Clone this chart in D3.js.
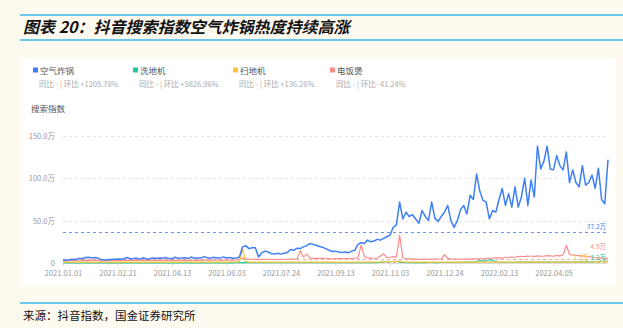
<!DOCTYPE html>
<html>
<head>
<meta charset="utf-8">
<script src="https://cdn.jsdelivr.net/npm/d3@7"></script>
<style>
  body { margin: 0; background: #fffaf0; }
  svg { display: block; }
  text { font-family: "Noto Sans CJK SC", "Noto Sans", sans-serif; }
</style>
</head>
<body>
<svg id="chart" width="623" height="328"></svg>
<script>
// values in 万, one point every 3 days from 2021-01-01
const startDate = '2021-01-01';
const stepDays = 3;

const airFryer = [
  3.5, 3.2, 3.8, 4.5, 4.2, 5.5, 5.0, 6.5, 6.8, 6.0, 6.5, 5.5, 4.0, 3.6, 4.0, 4.2,
  4.5, 4.8, 4.5, 5.0, 6.5, 4.8, 5.2, 5.5, 4.6, 6.2, 4.8, 5.0, 6.0, 5.2, 5.8,
  5.5, 6.5, 5.2, 5.0, 6.8, 5.5, 5.8, 6.2, 5.4, 7.0, 5.6, 6.0, 5.8, 7.5, 6.2,
  5.5, 6.8, 6.0, 5.8, 7.2, 6.0, 6.5, 5.6, 6.0, 6.8,
  19, 20.5, 17, 18, 18, 7, 12, 14, 13, 11, 10.5, 11.5, 10.5, 11.5, 12.5,
  16, 15, 17.5, 17, 19, 20.5, 23, 22, 21, 19.5, 18.5, 17, 15, 13.5,
  14, 13, 12.5, 13, 12, 14, 15, 22, 24, 23, 27, 25, 26, 28, 27, 29, 31, 33, 42, 45,
  72, 52, 60, 55, 57, 52, 47, 62, 55, 50, 72, 53, 49, 55, 60, 68, 50, 42, 50, 63,
  68, 58, 80, 75, 105, 85, 74, 72, 52, 62, 60, 75, 88, 68, 82, 66, 90, 66, 78, 100,
  68, 98, 78, 138, 111, 120, 138, 111, 110, 127, 115, 110, 131, 95, 110, 95, 90, 115,
  92, 95, 104, 88, 112, 75, 70, 122
];

const floorWasher = [
  0.2, 0.2, 0.2, 0.2, 0.2, 0.2, 0.2, 0.2, 0.2, 0.2, 0.2, 0.2, 0.2, 0.2, 0.2, 0.2,
  0.2, 0.2, 0.2, 0.2, 0.2, 0.2, 0.2, 0.2, 0.2, 0.2, 0.2, 0.2, 0.2, 0.2, 0.2,
  0.2, 0.2, 0.2, 0.2, 0.2, 0.2, 0.2, 0.2, 0.2, 0.2, 0.2, 0.2, 0.2, 0.2, 0.2,
  0.2, 0.2, 0.2, 0.2, 0.2, 0.2, 0.2, 0.2, 0.3, 0.3,
  0.8, 0.5, 0.3, 0.3, 0.3, 0.3, 0.3, 0.3, 0.3, 0.3, 0.3, 0.3, 0.3, 0.3, 0.3,
  0.3, 0.3, 0.3, 0.3, 0.3, 0.3, 0.3, 0.3, 0.3, 0.3, 0.3, 0.3, 0.3, 0.3,
  0.3, 0.3, 0.3, 0.3, 0.3, 0.3, 0.3, 0.4, 0.4, 0.4, 0.5, 0.5, 0.5, 0.6, 0.8, 1.5, 1.6, 1.5, 1.8, 2.0,
  1.2, 0.6, 0.5, 0.5, 0.5, 0.5, 0.5, 0.5, 0.5, 0.6, 0.6, 0.5, 0.5, 0.6, 0.6, 0.6, 0.6, 0.6, 0.7, 0.7,
  0.8, 1.0, 1.2, 1.5, 2.0, 3.0, 2.2, 2.8, 3.8, 3.2, 1.5, 1.0, 0.8, 0.8, 0.9, 0.9, 0.9, 1.0, 1.0, 1.0,
  1.0, 1.0, 1.1, 1.2, 1.0, 1.1, 1.2, 1.1, 1.1, 1.2, 1.2, 1.1, 1.3, 1.2, 1.2, 1.3, 1.2, 1.3,
  1.3, 1.4, 1.4, 1.5, 1.6, 1.8, 2.0, 2.2
];

const robotVacuum = [
  1.0, 1.0, 1.0, 1.0, 1.0, 1.0, 1.0, 1.0, 1.0, 1.0, 1.0, 1.0, 1.0, 1.0, 1.0, 1.0,
  1.0, 1.0, 1.0, 1.0, 1.0, 1.0, 1.0, 1.0, 1.0, 1.0, 1.0, 1.0, 1.0, 1.0, 1.0,
  1.0, 1.0, 1.0, 1.0, 1.0, 1.0, 1.0, 1.0, 1.0, 1.0, 1.0, 1.0, 1.0, 1.0, 1.0,
  1.0, 1.0, 1.0, 1.0, 1.0, 1.1, 1.1, 1.2, 1.3, 1.5,
  16.5, 2.0, 1.2, 1.0, 1.0, 1.0, 1.0, 1.0, 1.0, 1.0, 1.0, 1.0, 1.0, 1.0, 1.0,
  1.0, 1.0, 1.0, 1.0, 1.0, 1.0, 1.0, 1.0, 1.0, 1.0, 1.0, 1.0, 1.0, 1.0,
  1.0, 1.0, 1.0, 1.0, 1.0, 1.0, 1.0, 1.0, 1.0, 1.0, 1.0, 1.1, 1.1, 1.2, 1.2, 1.4, 1.5, 1.6, 1.8, 2.0,
  2.5, 1.2, 1.0, 1.0, 1.0, 1.0, 1.0, 1.0, 1.0, 1.0, 1.0, 1.0, 1.0, 1.0, 1.0, 1.0, 1.0, 1.0, 1.0, 1.0,
  1.0, 1.0, 1.0, 1.0, 1.0, 1.0, 1.0, 1.0, 1.0, 1.0, 1.0, 1.0, 1.0, 1.0, 1.0, 1.0, 1.0, 1.0, 1.0, 1.0,
  1.0, 1.0, 1.0, 1.0, 1.0, 1.0, 1.0, 1.0, 1.0, 1.0, 1.0, 1.0, 1.0, 1.0, 1.0, 1.0, 1.0, 1.1,
  1.1, 1.2, 1.2, 1.3, 1.4, 1.5, 1.6, 1.7
];

const riceCooker = [
  2.5, 2.6, 2.8, 3.0, 2.8, 3.2, 3.0, 3.4, 3.2, 3.0, 3.3, 3.0, 2.6, 2.5, 2.7, 2.8,
  2.8, 3.0, 2.9, 3.0, 3.4, 3.0, 3.1, 3.2, 3.0, 3.3, 3.0, 3.0, 3.2, 3.0, 3.2,
  3.1, 3.4, 3.1, 3.0, 3.5, 3.2, 3.2, 3.4, 3.1, 3.6, 3.2, 3.3, 3.2, 3.6, 3.4,
  3.2, 3.5, 3.3, 3.2, 3.6, 3.4, 3.5, 3.3, 3.6, 4.0,
  6.0, 5.0, 4.2, 4.4, 4.5, 4.0, 4.2, 4.4, 4.3, 4.2, 4.1, 4.3, 4.2, 4.4, 4.5,
  4.6, 4.5, 4.8, 14.5, 7.0, 10.5, 6.0, 5.5, 5.6, 5.4, 5.5, 5.3, 5.2, 5.0,
  5.0, 5.2, 5.1, 5.3, 5.2, 5.4, 5.6, 6.0, 21, 8.0, 6.0, 5.8, 5.6, 5.8, 8.0, 11, 6.5, 6.8, 7.5, 7.0,
  33, 6.0, 5.0, 4.8, 4.6, 4.5, 4.4, 4.6, 4.5, 4.4, 4.6, 4.5, 4.4, 5.0, 10, 5.5, 4.8, 4.6, 4.5, 4.4,
  4.5, 4.6, 4.6, 4.8, 5.0, 5.2, 5.0, 5.4, 5.6, 5.8, 6.0, 6.2, 6.0, 6.5, 6.8, 7.0, 6.8, 7.5, 8.0, 7.6,
  8.2, 8.0, 7.8, 8.5, 8.0, 8.2, 8.8, 8.4, 8.0, 9.0, 8.5, 9.5, 21, 10, 9.5, 9.0, 8.8, 8.5,
  8.0, 7.5, 7.0, 6.5, 6.0, 5.8, 5.5, 5.2
];

const seriesNames = ['空气炸锅', '洗地机', '扫地机', '电饭煲'];
const seriesColors = ['#3d7ff5', '#20c997', '#fbc43d', '#fb8d8d'];
const seriesNotes = ['同比 - | 环比 +1205.78%', '同比 - | 环比 +5826.96%', '同比 - | 环比 +136.26%', '同比 - | 环比 -41.24%'];
const seriesAverages = [37.2, 1.2, 1.5, 4.9];

const yTicks = [0, 50, 100, 150];
const xTickLabels = ['2021.01.01', '2021.02.21', '2021.04.13', '2021.06.03', '2021.07.24',
  '2021.09.13', '2021.11.03', '2021.12.24', '2022.02.13', '2022.04.05'];

const svg = d3.select('#chart');
const parse = d3.timeParse('%Y-%m-%d');
const parseTick = d3.timeParse('%Y.%m.%d');
const allSeries = [airFryer, floorWasher, robotVacuum, riceCooker];

const t0 = parse(startDate);
const dates = airFryer.map((v, i) => d3.timeDay.offset(t0, i * stepDays));

const plot = { left: 63, right: 608, top: 136, bottom: 263 };
const x = d3.scaleTime()
  .domain([t0, dates[dates.length - 1]])
  .range([plot.left, plot.right]);
const y = d3.scaleLinear().domain([0, 150]).range([plot.bottom, plot.top]);
const snap = v => Math.round(v) + 0.5;

// title block
svg.append('line').attr('x1', 20).attr('x2', 623).attr('y1', 15).attr('y2', 15)
  .attr('stroke', '#3db5ea').attr('stroke-width', 1.6);
svg.append('text').attr('x', 23).attr('y', 33)
  .attr('font-size', 16).attr('font-weight', 'bold').attr('font-style', 'italic')
  .attr('fill', '#111')
  .text('图表 20：抖音搜索指数空气炸锅热度持续高涨');
svg.append('line').attr('x1', 20).attr('x2', 623).attr('y1', 40).attr('y2', 40)
  .attr('stroke', '#3db5ea').attr('stroke-width', 1.6);

// white panel
svg.append('rect').attr('x', 21).attr('y', 58).attr('width', 595).attr('height', 227)
  .attr('fill', '#fff');

// legend
const legend = svg.append('g');
const legendX = [33, 133, 233, 330];
seriesNames.forEach((name, i) => {
  const g = legend.append('g').attr('transform', `translate(${legendX[i]}, 0)`);
  g.append('rect').attr('x', 0).attr('y', 67.5).attr('width', 5).attr('height', 5)
    .attr('fill', seriesColors[i]);
  g.append('text').attr('x', 7).attr('y', 73.5).attr('font-size', 8.5).attr('fill', '#555')
    .text(name);
  g.append('text').attr('x', 6).attr('y', 87).attr('font-size', 7.5).attr('fill', '#aaa')
    .text(seriesNotes[i]);
});

svg.append('text').attr('x', 31).attr('y', 112).attr('font-size', 8.5).attr('fill', '#555')
  .text('搜索指数');

// grid + y labels
const gy = svg.append('g');
gy.selectAll('line').data(yTicks.filter(d => d > 0)).enter().append('line')
  .attr('x1', plot.left).attr('x2', plot.right)
  .attr('y1', d => snap(y(d))).attr('y2', d => snap(y(d)))
  .attr('stroke', '#e6e6e6').attr('stroke-dasharray', '3,3');
gy.selectAll('text').data(yTicks).enter().append('text')
  .attr('x', 55).attr('y', d => y(d) + 3)
  .attr('text-anchor', 'end').attr('font-size', 7.5).attr('fill', '#999')
  .text(d => d === 0 ? '0' : d.toFixed(1) + '万');

// x axis
const xAxis = d3.axisBottom(x)
  .tickValues(xTickLabels.map(parseTick))
  .tickFormat(d3.timeFormat('%Y.%m.%d'))
  .tickSize(3)
  .tickSizeOuter(0);
const gx = svg.append('g').attr('transform', `translate(0, ${plot.bottom})`).call(xAxis);
gx.select('.domain').attr('stroke', '#ddd');
gx.selectAll('.tick line').attr('stroke', '#ddd');
gx.selectAll('.tick text').attr('font-size', 7.5).attr('fill', '#999')
  .attr('font-family', '"Noto Sans", sans-serif').attr('dy', '0.9em');

// average lines
seriesAverages.forEach((a, i) => {
  svg.append('line').attr('x1', plot.left).attr('x2', plot.right)
    .attr('y1', snap(y(a))).attr('y2', snap(y(a)))
    .attr('stroke', seriesColors[i]).attr('stroke-width', 1)
    .attr('stroke-dasharray', '3,3').attr('opacity', 0.8);
});

// series lines
const drawOrder = [3, 1, 2, 0];
const line = d3.line()
  .x((d, i) => x(dates[i]))
  .y(d => y(d));
drawOrder.forEach(i => {
  svg.append('path').datum(allSeries[i])
    .attr('d', line)
    .attr('fill', 'none')
    .attr('stroke', seriesColors[i])
    .attr('stroke-width', i === 0 ? 1.5 : 1.2)
    .attr('stroke-linejoin', 'round');
});

// average labels: red above, green and yellow side by side below
const labelPos = [null, [606, 260], [589, 260], [606, 249]];
seriesAverages.forEach((a, i) => {
  const p = i === 0 ? [606, y(a) - 3] : labelPos[i];
  svg.append('text')
    .attr('x', p[0]).attr('y', p[1])
    .attr('text-anchor', 'end').attr('font-size', 6.5)
    .attr('fill', seriesColors[i])
    .text(a.toFixed(1) + '万');
});

// source
svg.append('line').attr('x1', 20).attr('x2', 623).attr('y1', 303).attr('y2', 303)
  .attr('stroke', '#3db5ea').attr('stroke-width', 1.6);
svg.append('text').attr('x', 23).attr('y', 320).attr('font-size', 11.5).attr('fill', '#111')
  .text('来源：抖音指数，国金证券研究所');
</script>
</body>
</html>
